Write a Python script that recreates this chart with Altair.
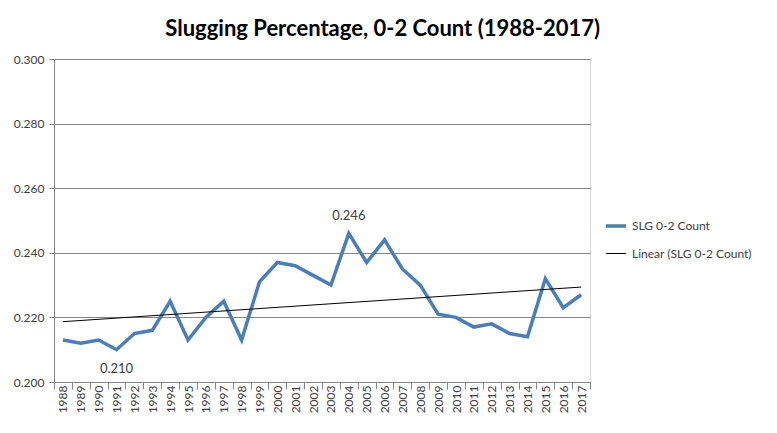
import pandas as pd
import altair as alt

# Slugging percentage on 0-2 counts, per season
years = list(range(1988, 2018))
slg = [0.213, 0.212, 0.213, 0.210, 0.215, 0.216, 0.225, 0.213, 0.220, 0.225,
       0.213, 0.231, 0.237, 0.236, 0.233, 0.230, 0.246, 0.237, 0.244, 0.235,
       0.230, 0.221, 0.220, 0.217, 0.218, 0.215, 0.214, 0.232, 0.223, 0.227]
labelled_years = [1991, 2004]

series_names = ['SLG 0-2 Count', 'Linear (SLG 0-2 Count)']
series_colors = ['#4a7ebb', '#000000']
series_widths = [3.5, 1]

df = pd.DataFrame({'year': years, 'slg': slg})

font = 'Lato, Open Sans, sans-serif'
grey = '#868686'

x_scale = alt.Scale(domain=[years[0] - 0.5, years[-1] + 0.5], nice=False, zero=False)
y_scale = alt.Scale(domain=[0.2, 0.3], nice=False)

color_scale = alt.Scale(domain=series_names, range=series_colors)
width_scale = alt.Scale(domain=series_names, range=series_widths)
# legend sits to the right, centred on the plot height like Excel does
legend = alt.Legend(title=None, symbolType='stroke', symbolSize=400,
                    labelFontSize=12, labelColor='#404040', rowPadding=10,
                    orient='none', legendX=550, legendY=155)

color = alt.Color('series:N', scale=color_scale, legend=legend)
stroke_w = alt.StrokeWidth('series:N', scale=width_scale, legend=legend)

base = alt.Chart(df)

line = base.transform_calculate(series=f"'{series_names[0]}'").mark_line().encode(
    x=alt.X('year:Q', scale=x_scale, title=None,
            axis=alt.Axis(values=years, format='d', labelAngle=-90, ticks=False,
                          grid=False, domainColor=grey, labelFontSize=12,
                          labelColor='#404040', labelPadding=3)),
    y=alt.Y('slg:Q', scale=y_scale, title=None,
            axis=alt.Axis(values=[0.2, 0.22, 0.24, 0.26, 0.28, 0.3], format='.3f',
                          gridColor=grey, domainColor=grey, tickColor=grey,
                          tickSize=5, labelFontSize=12, labelColor='#404040',
                          labelPadding=5)),
    color=color,
    strokeWidth=stroke_w,
)

# Excel puts the category ticks between the years
edges = [y - 0.5 for y in years] + [years[-1] + 0.5]
trend = base.transform_regression('year', 'slg').transform_calculate(
    series=f"'{series_names[1]}'").mark_line().encode(
    x=alt.X('year:Q', scale=x_scale, title=None,
            axis=alt.Axis(values=edges, labels=False, ticks=True, tickSize=7,
                          tickColor=grey, domain=False, grid=False, orient='bottom')),
    y=alt.Y('slg:Q', scale=y_scale),
    color=color,
    strokeWidth=stroke_w,
)

below = base.transform_filter(alt.datum.year == labelled_years[0]).mark_text(
    dy=19, fontSize=13, color='#404040').encode(
    x=alt.X('year:Q', axis=None), y='slg:Q', text=alt.Text('slg:Q', format='.3f'))
above = base.transform_filter(alt.datum.year == labelled_years[1]).mark_text(
    dy=-17, fontSize=13, color='#404040').encode(
    x=alt.X('year:Q', axis=None), y='slg:Q', text=alt.Text('slg:Q', format='.3f'))

chart = alt.layer(line, trend, below, above).resolve_axis(x='independent').properties(
    width=536, height=323,
    title=alt.Title('Slugging Percentage, 0-2 Count (1988-2017)', font=font,
                    fontSize=22, fontWeight='bold', color='#000000', offset=12,
                    anchor='middle', frame='bounds'),
    padding={'left': 5, 'top': 10, 'right': 5, 'bottom': 5},
).configure_view(strokeWidth=0).configure(font=font, background='white')

chart.save("out.html", embed_options={"renderer": "svg", "actions": False})
